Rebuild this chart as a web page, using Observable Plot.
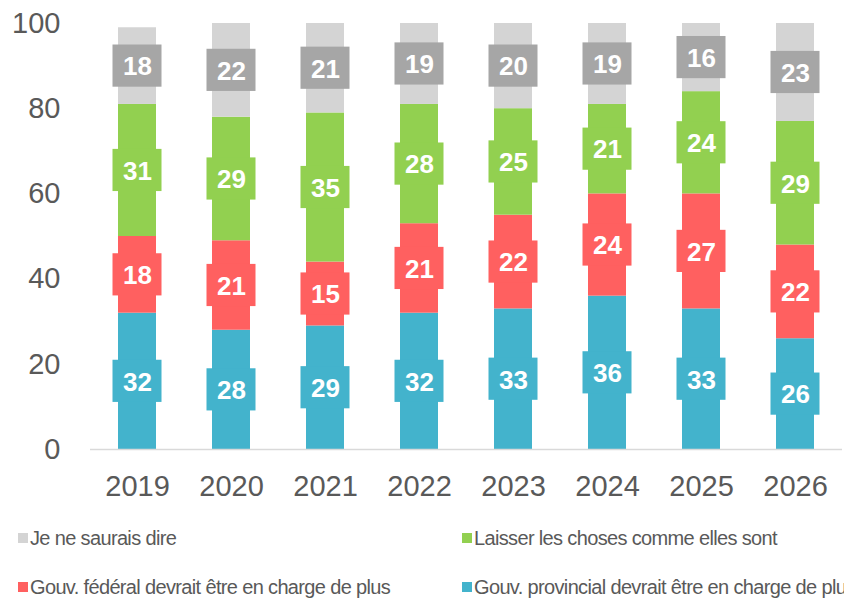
<!DOCTYPE html>
<html>
<head>
<meta charset="utf-8">
<script src="https://cdn.jsdelivr.net/npm/d3@7"></script>
<script src="https://cdn.jsdelivr.net/npm/@observablehq/plot@0.6"></script>
<style>
  html, body { margin: 0; padding: 0; background: #fff; overflow: hidden; width: 844px; height: 598px; }
  #chart svg { display: block; }
  .legend { font-family: "Liberation Sans", Arial, sans-serif; font-size: 20px; line-height: 22px; color: #595959; letter-spacing: -0.65px; white-space: nowrap; margin-top: 12px; }
  .row { display: flex; height: 22px; align-items: center; padding-left: 18px; }
  .row + .row { margin-top: 27px; }
  .item { display: flex; align-items: center; flex: none; }
  .item:first-child { width: 444px; }
  .sw { width: 10px; height: 10px; margin-right: 2px; flex: none; }
</style>
</head>
<body>
<div id="chart"></div>
<div class="legend" id="legend"></div>
<script>
const years = ["2019", "2020", "2021", "2022", "2023", "2024", "2025", "2026"];
const series = [
  "Gouv. provincial devrait être en charge de plus",
  "Gouv. fédéral devrait être en charge de plus",
  "Laisser les choses comme elles sont",
  "Je ne saurais dire"
];
const provincial = [32, 28, 29, 32, 33, 36, 33, 26];
const federal    = [18, 21, 15, 21, 22, 24, 27, 22];
const laisser    = [31, 29, 35, 28, 25, 21, 24, 29];
const nsp        = [18, 22, 21, 19, 20, 19, 16, 23];
const barColors   = ["#43b3cc", "#ff6060", "#92d050", "#d4d4d4"];
const labelColors = ["#43b3cc", "#ff6060", "#92d050", "#a6a6a6"];
const yTicks = [0, 20, 40, 60, 80, 100];
const legendOrder = [3, 2, 1, 0];

const valuesBySeries = [provincial, federal, laisser, nsp];
const rows = [];
years.forEach((yr, i) => {
  let base = 0;
  valuesBySeries.forEach((vals, s) => {
    const v = vals[i];
    rows.push({year: yr, series: series[s], s, value: v, y1: base, y2: base + v, mid: base + v / 2});
    base += v;
  });
});

const boxHalf = 4.95; // half label-box height in data units

const plot = Plot.plot({
  width: 844,
  height: 515,
  marginLeft: 90,
  marginRight: 2,
  marginTop: 23,
  marginBottom: 66,
  style: {fontFamily: "'Liberation Sans', Arial, sans-serif", color: "#595959", background: "#fff"},
  x: {type: "band", domain: years, paddingInner: 0.6, paddingOuter: 0.3, label: null},
  y: {domain: [0, 100], label: null},
  color: {domain: series, range: barColors},
  marks: [
    Plot.axisY({ticks: yTicks, tickSize: 0, tickPadding: 30, fontSize: 29, fill: "#595959", label: null, style: {letterSpacing: "-1px"}}),
    Plot.axisX({tickSize: 0, tickPadding: 26, fontSize: 29, fill: "#595959", label: null, style: {letterSpacing: "-0.5px"}}),
    Plot.barY(rows, {x: "year", y1: "y1", y2: "y2", fill: d => barColors[d.s]}),
    Plot.barY(rows, {x: "year", y1: d => d.mid - boxHalf, y2: d => d.mid + boxHalf, fill: d => labelColors[d.s], insetLeft: -5.5, insetRight: -5.5}),
    Plot.text(rows, {x: "year", y: "mid", text: d => String(d.value), fill: "#fff", fontSize: 26, fontWeight: "bold", dy: 1}),
    Plot.ruleY([0], {stroke: "#d9d9d9", strokeWidth: 1.5})
  ]
});
document.getElementById("chart").appendChild(plot);

const legend = document.getElementById("legend");
const pairs = [[legendOrder[0], legendOrder[1]], [legendOrder[2], legendOrder[3]]];
pairs.forEach(pair => {
  const row = document.createElement("div");
  row.className = "row";
  pair.forEach(s => {
    const item = document.createElement("div");
    item.className = "item";
    const sw = document.createElement("span");
    sw.className = "sw";
    sw.style.background = barColors[s];
    const t = document.createElement("span");
    t.textContent = series[s];
    item.appendChild(sw);
    item.appendChild(t);
    row.appendChild(item);
  });
  legend.appendChild(row);
});
</script>
</body>
</html>
